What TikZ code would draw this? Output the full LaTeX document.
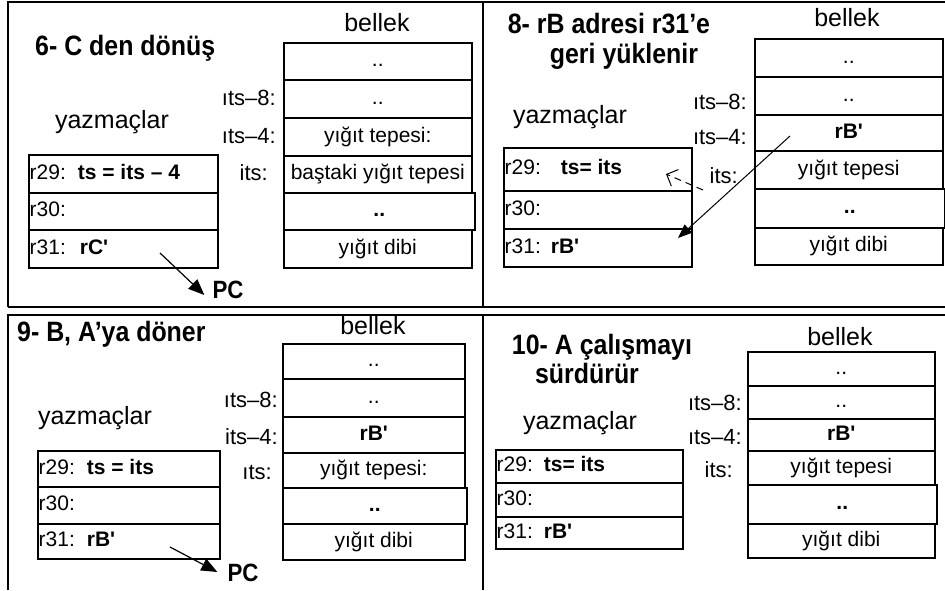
\documentclass[tikz,border=0pt]{standalone}
\usepackage{fontspec}
\setmainfont{Liberation Sans}
\newfontfamily\condsans[FakeStretch=0.89]{Liberation Sans}
\usetikzlibrary{arrows.meta}
\newcommand\cellfont{\fontsize{21pt}{24pt}\selectfont}
\newcommand\lblfont{\fontsize{22pt}{26pt}\selectfont}
\newcommand\headfont{\fontsize{25pt}{30pt}\selectfont}
\newcommand\ttlfont{\condsans\bfseries\fontsize{28pt}{32pt}\selectfont}
\newcommand\pcfont{\condsans\bfseries\fontsize{25pt}{30pt}\selectfont}
\newcommand\sq{\textquotesingle}
\newcommand\mcell[6]{\node[memcell,minimum width=#4pt,minimum height=#5pt] (#1) at (#2,#3) {#6};}
\newcommand\rcell[6]{\node[regcell,minimum width=#4pt,minimum height=#5pt] (#1) at (#2,#3) {};
  \node[regtext] (#1t) at (#1.west) {#6};}
\begin{document}
\begin{tikzpicture}[x=1pt,y=-1pt,
  memcell/.style={draw, line width=1.5pt, anchor=north west, inner sep=0pt, font=\cellfont, text height=15pt, text depth=4.5pt},
  regcell/.style={draw, line width=1.5pt, anchor=north west, inner sep=0pt},
  regtext/.style={anchor=west, inner xsep=1.5pt, inner ysep=0pt, font=\cellfont, text height=15pt, text depth=4.5pt},
  lbl/.style={anchor=east, inner sep=0pt, font=\lblfont},
  head/.style={inner sep=0pt, font=\headfont},
  ttl/.style={inner sep=0pt, font=\ttlfont, anchor=base},
  pc/.style={inner sep=0pt, font=\pcfont},
  frame/.style={line width=2pt},
  flow/.style={line width=1.2pt, -{Triangle[length=16pt,width=13pt]}},
  flowthin/.style={line width=1pt, -{Triangle[length=14pt,width=11pt]}},
  back/.style={line width=1pt, dash pattern=on 7pt off 5pt, -{Straight Barb[length=9pt,width=18pt]}}
]
\useasboundingbox (0,0) rectangle (945,590);
% frames
\draw[frame] (8,307) -- (8,2) -- (945,2);
\draw[frame] (8,307) -- (945,307);
\draw[frame] (8,590) -- (8,315) -- (945,315);
\draw[frame] (483,2) -- (483,307);
\draw[frame] (483,315) -- (483,590);

% ---------- panel 1 ----------
\node[ttl, anchor=base west] (p1t) at (35,55) {6- C den dönüş};
\node[head] (p1bel) at (377,23) {bellek};
\mcell{p1m1}{283}{42}{188}{37}{..}
\mcell{p1m2}{283}{79}{188}{38}{..}
\mcell{p1m3}{283}{117}{188}{38}{yığıt tepesi:}
\mcell{p1m4}{283}{155}{188}{37}{baştaki yığıt tepesi}
\mcell{p1m5}{283}{192}{191}{37}{\textbf{..}}
\mcell{p1m6}{283}{229}{188}{38}{yığıt dibi}
\node[lbl] (p1l1) at (276,98) {ıts–8:};
\node[lbl] (p1l2) at (276,136) {ıts–4:};
\node[lbl] (p1l3) at (268,173) {its:};
\node[head] (p1yaz) at (112,122) {yazmaçlar};
\rcell{p1r1}{28}{154}{189}{38}{r29:\hspace{12pt}\textbf{ts = its – 4}}
\rcell{p1r2}{28}{192}{189}{37}{r30:}
\rcell{p1r3}{28}{229}{189}{38}{r31:\hspace{14pt}\textbf{rC\sq}}
\node[pc] (p1pc) at (228,290) {PC};
\coordinate (p1a) at (160,253);
\draw[flow] (p1a) -- ([xshift=-8pt,yshift=-5pt]p1pc.west);

% ---------- panel 2 ----------
\node[ttl] (p2t1) at (609,33) {8- rB adresi r31’e};
\node[ttl] (p2t2) at (624,63) {geri yüklenir};
\node[head] (p2bel) at (847,18) {bellek};
\mcell{p2m1}{754}{38}{188}{38}{..}
\mcell{p2m2}{754}{76}{188}{38}{..}
\mcell{p2m3}{754}{114}{188}{36}{\textbf{rB\sq}}
\mcell{p2m4}{754}{150}{188}{38}{yığıt tepesi}
\mcell{p2m5}{754}{188}{190}{39}{\textbf{..}}
\mcell{p2m6}{754}{227}{188}{37}{yığıt dibi}
\node[lbl] (p2l1) at (747,102) {ıts–8:};
\node[lbl] (p2l2) at (747,137) {ıts–4:};
\node[lbl] (p2l3) at (738,176) {its:};
\node[head] (p2yaz) at (570,117) {yazmaçlar};
\rcell{p2r1}{503}{147}{188}{43}{r29:\hspace{20pt}\textbf{ts= its}}
\rcell{p2r2}{503}{190}{188}{38}{r30:}
\rcell{p2r3}{503}{228}{188}{38}{r31:\hspace{10pt}\textbf{rB\sq}}
\coordinate (p2ds) at (703,190);
\coordinate (p2de) at (666,174);
\draw[back] (p2ds) -- (p2de);
\coordinate (p2s) at (790,136);
\coordinate (p2e) at (678,238);
\draw[flowthin] (p2s) -- (p2e);

% ---------- panel 3 ----------
\node[ttl, anchor=base west] (p3t) at (17,341) {9- B, A’ya döner};
\node[head] (p3bel) at (373,326) {bellek};
\mcell{p3m1}{282}{343}{182}{35}{..}
\mcell{p3m2}{282}{378}{182}{38}{..}
\mcell{p3m3}{282}{416}{182}{36}{\textbf{rB\sq}}
\mcell{p3m4}{282}{452}{182}{35}{yığıt tepesi:}
\mcell{p3m5}{282}{487}{184}{36}{\textbf{..}}
\mcell{p3m6}{282}{523}{182}{36}{yığıt dibi}
\node[lbl] (p3l1) at (278,400) {ıts–8:};
\node[lbl] (p3l2) at (278,437) {its–4:};
\node[lbl] (p3l3) at (272,472) {ıts:};
\node[head] (p3yaz) at (95,418) {yazmaçlar};
\rcell{p3r1}{37}{450}{182}{36}{r29:\hspace{12pt}\textbf{ts = its}}
\rcell{p3r2}{37}{486}{182}{37}{r30:}
\rcell{p3r3}{37}{523}{182}{35}{r31:\hspace{12pt}\textbf{rB\sq}}
\node[pc] (p3pc) at (243,573) {PC};
\coordinate (p3a) at (170,547);
\draw[flow] (p3a) -- ([xshift=-10pt,yshift=1pt]p3pc.west);

% ---------- panel 4 ----------
\node[ttl] (p4t1) at (602,354) {10- A çalışmayı};
\node[ttl] (p4t2) at (587,383) {sürdürür};
\node[head] (p4bel) at (840,337) {bellek};
\mcell{p4m1}{747}{351}{187}{34}{..}
\mcell{p4m2}{747}{385}{187}{33}{..}
\mcell{p4m3}{747}{418}{187}{32}{\textbf{rB\sq}}
\mcell{p4m4}{747}{450}{187}{34}{yığıt tepesi}
\mcell{p4m5}{747}{484}{189}{39}{\textbf{..}}
\mcell{p4m6}{747}{523}{187}{34}{yığıt dibi}
\node[lbl] (p4l1) at (742,403) {ıts–8:};
\node[lbl] (p4l2) at (742,437) {ıts–4:};
\node[lbl] (p4l3) at (733,470) {its:};
\node[head] (p4yaz) at (580,423) {yazmaçlar};
\rcell{p4r1}{495}{449}{187}{33}{r29:\hspace{11pt}\textbf{ts= its}}
\rcell{p4r2}{495}{482}{187}{34}{r30:}
\rcell{p4r3}{495}{516}{187}{32}{r31:\hspace{11pt}\textbf{rB\sq}}
\end{tikzpicture}
\end{document}
